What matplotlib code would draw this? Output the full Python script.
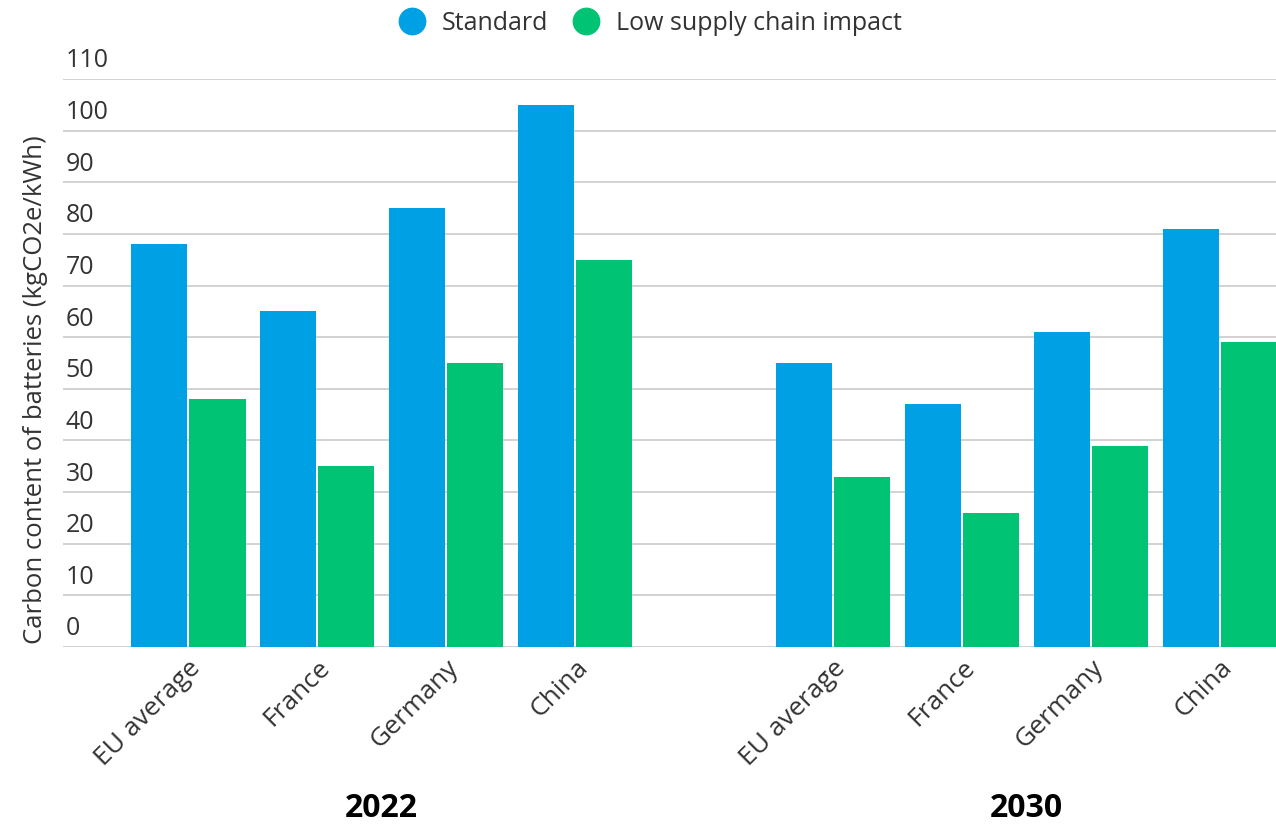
import matplotlib.pyplot as plt
from matplotlib.lines import Line2D

plt.rcParams['font.family'] = ['Open Sans', 'DejaVu Sans']

# Battery carbon content per region, two scenarios, two years
regions = ['EU average', 'France', 'Germany', 'China']
years = ['2022', '2030']
standard_2022 = [78, 65, 85, 105]
low_2022 = [48, 35, 55, 75]
standard_2030 = [55, 47, 61, 81]
low_2030 = [33, 26, 39, 59]
y_ticks = [0, 10, 20, 30, 40, 50, 60, 70, 80, 90, 100, 110]

blue = '#00a0e4'
green = '#00c473'
text_grey = '#333333'

fig = plt.figure(figsize=(12.76, 8.24), dpi=100)
ax = fig.add_axes([0.0494, 0.2148, 0.9506, 0.6893])

# groups 0-3 for 2022, gap, 5-8 for 2030
pos_2022 = [0, 1, 2, 3]
pos_2030 = [5, 6, 7, 8]
w = 0.435
off = 0.228

ax.bar([p - off for p in pos_2022], standard_2022, w, color=blue, zorder=3)
ax.bar([p + off for p in pos_2022], low_2022, w, color=green, zorder=3)
ax.bar([p - off for p in pos_2030], standard_2030, w, color=blue, zorder=3)
ax.bar([p + off for p in pos_2030], low_2030, w, color=green, zorder=3)

ax.set_xlim(-0.969, 8.434)
ax.set_ylim(0, 110)

# horizontal grid lines with the value written just above each line
for t in y_ticks:
    ax.axhline(t, color='#cfcfcf', lw=1.3, zorder=1)
    ax.annotate(str(t), xy=(0.002, t), xycoords=('axes fraction', 'data'),
                xytext=(0, 4), textcoords='offset points',
                ha='left', va='bottom', fontsize=18, color=text_grey)
ax.set_yticks([])

ax.set_xticks(pos_2022 + pos_2030)
ax.set_xticklabels(regions + regions, rotation=45, ha='right',
                   rotation_mode='anchor', fontsize=19, color=text_grey)
ax.tick_params(axis='x', length=0, pad=6)
for s in ax.spines.values():
    s.set_visible(False)

# year captions under each group
for yr, ps in zip(years, [pos_2022, pos_2030]):
    ax.annotate(yr, xy=(sum(ps) / len(ps), 0), xycoords=('data', 'axes fraction'),
                xytext=(0, -161), textcoords='offset pixels',
                ha='center', va='center', fontsize=23, fontweight='bold',
                color='black')

fig.text(0.028, 0.527, 'Carbon content of batteries (kgCO2e/kWh)',
         rotation=90, ha='center', va='center', fontsize=18.5, color=text_grey)

handles = [Line2D([], [], marker='o', ls='none', markersize=20,
                  markerfacecolor=blue, markeredgecolor='none'),
           Line2D([], [], marker='o', ls='none', markersize=20,
                  markerfacecolor=green, markeredgecolor='none')]
fig.legend(handles, ['Standard', 'Low supply chain impact'], ncol=2,
           loc='center', bbox_to_anchor=(0.505, 0.972), frameon=False,
           fontsize=18, handletextpad=0.2, columnspacing=0.5,
           labelcolor=text_grey)

fig.savefig('out.png', dpi=100)
